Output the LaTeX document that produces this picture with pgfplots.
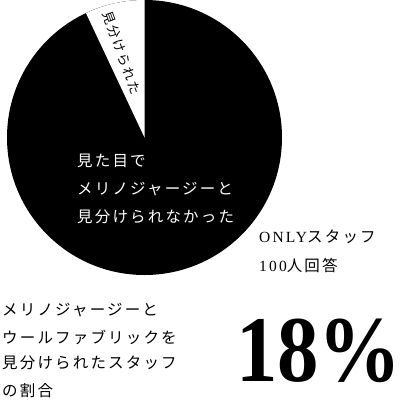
\documentclass[border=0pt]{standalone}
\usepackage{pgfplots}
\pgfplotsset{compat=1.18}
\usepackage{pgfplotstable}
\usepackage{fontspec}
\newfontfamily\jp{Noto Sans CJK JP}[LetterSpace=14]
\newfontfamily\lat{Liberation Serif}[LetterSpace=14]
\newfontfamily\bignum{Liberation Serif}

% share of staff (percent of the circle as drawn)
\pgfplotstableread{
label value
miwaketa 7
miwakenai 93
}\pietable

\pgfplotstablegetelem{0}{value}\of\pietable
\pgfmathsetmacro\wedgeend{90+3.6*\pgfplotsretval}

\begin{document}
\begin{tikzpicture}
\begin{axis}[
    scale only axis,
    width=400pt, height=413pt,
    xmin=0, xmax=400, ymin=0, ymax=413,
    y dir=reverse,
    hide axis,
    clip=false,
]
    % pie
    \fill[black] (axis cs:144.5,137.5) circle[radius=137.5pt];
    \fill[white] (axis cs:144.5,137.5) -- ++(90:137.5pt)
        arc[start angle=90, end angle=\wedgeend, radius=137.5pt] -- cycle;

    % labels in the pie
    \node[rotate=-70, inner sep=0, font=\jp\fontsize{13}{14}\selectfont]
        at (axis cs:122,53) {見分けられた};
    \node[anchor=west, inner sep=0, text=white, font=\jp\fontsize{15.5}{16}\selectfont]
        at (axis cs:77,160.5) {見た目で};
    \node[anchor=west, inner sep=0, text=white, font=\jp\fontsize{15.5}{16}\selectfont]
        at (axis cs:77,189.5) {メリノジャージーと};
    \node[anchor=west, inner sep=0, text=white, font=\jp\fontsize{15.5}{16}\selectfont]
        at (axis cs:77,216.5) {見分けられなかった};

    % respondents
    \node[anchor=west, inner sep=0, font=\fontsize{15.5}{16}\selectfont]
        at (axis cs:259,237) {{\lat ONLY}{\jp スタッフ}};
    \node[anchor=west, inner sep=0, font=\fontsize{15.5}{16}\selectfont]
        at (axis cs:259,265) {{\lat 100}{\jp 人回答}};

    % caption
    \node[anchor=west, inner sep=0, font=\jp\fontsize{15.5}{16}\selectfont]
        at (axis cs:2,310) {メリノジャージーと};
    \node[anchor=west, inner sep=0, font=\jp\fontsize{15.5}{16}\selectfont]
        at (axis cs:2,337) {ウールファブリックを};
    \node[anchor=west, inner sep=0, font=\jp\fontsize{15.5}{16}\selectfont]
        at (axis cs:2,363) {見分けられたスタッフ};
    \node[anchor=west, inner sep=0, font=\jp\fontsize{15.5}{16}\selectfont]
        at (axis cs:2,391) {の割合};

    % big number
    \node[anchor=base west, inner sep=0, xscale=0.88,
          font=\bignum\bfseries\fontsize{94}{94}\selectfont]
        at (axis cs:236,381) {18\%};
\end{axis}
\pgfresetboundingbox
\useasboundingbox (0,0) rectangle (400pt,413pt);
\end{tikzpicture}
\end{document}
